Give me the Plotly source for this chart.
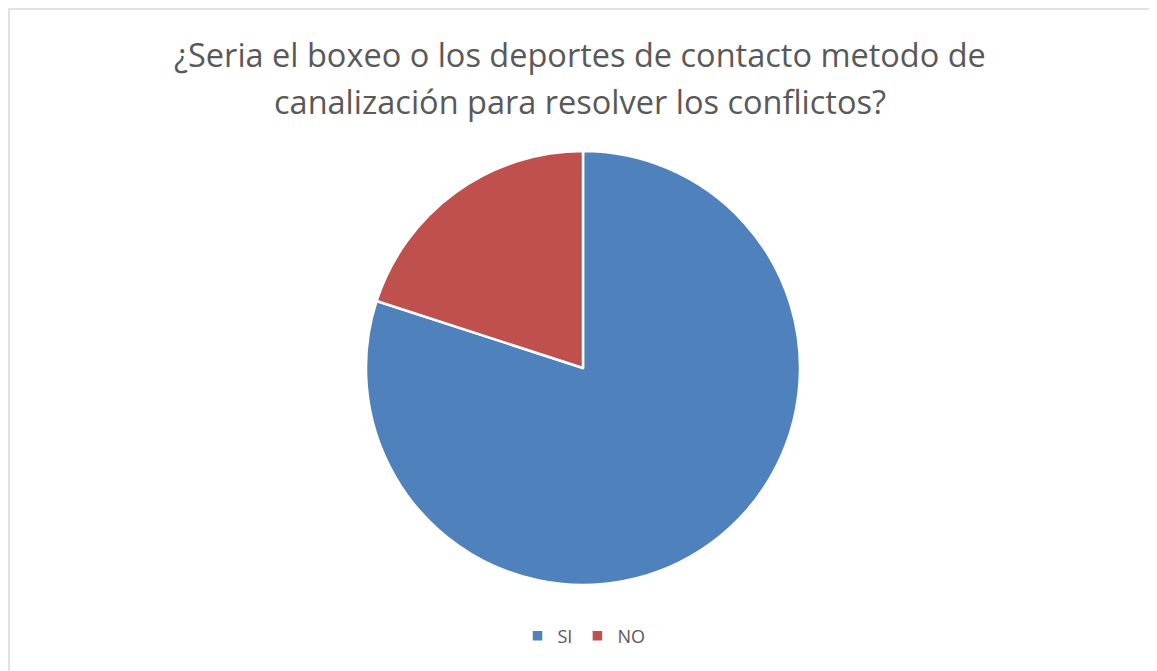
import plotly.graph_objects as go

labels = ["SI", "NO"]
values = [80, 20]
colors = ["#4F81BD", "#C0504D"]
title_lines = ["¿Seria el boxeo o los deportes de contacto metodo de",
               "canalización para resolver los conflictos?"]

W, H = 1157, 671
OFF = 8  # page body margin

def py(y):
    return 1 - (y - OFF) / H

def px(x):
    return (x - OFF) / W

cx = px(583)
half = 0.25
fig = go.Figure(go.Pie(
    labels=labels,
    values=values,
    sort=False,
    direction="clockwise",
    rotation=0,
    textinfo="none",
    hoverinfo="label+percent",
    marker=dict(colors=colors, line=dict(color="white", width=2.5)),
    domain=dict(x=[cx - half, cx + half], y=[py(585), py(151)]),
))

title_font = dict(family="Open Sans", size=32.5, color="#595959")
annotations = [
    dict(text=title_lines[0], x=px(580), y=py(54), xref="paper", yref="paper",
         xanchor="center", yanchor="middle", showarrow=False, font=title_font),
    dict(text=title_lines[1], x=px(580), y=py(102), xref="paper", yref="paper",
         xanchor="center", yanchor="middle", showarrow=False, font=title_font),
]

fig.update_layout(
    width=W, height=H,
    margin=dict(l=0, r=0, t=0, b=0),
    paper_bgcolor="white",
    annotations=annotations,
    legend=dict(orientation="h", x=px(584), xanchor="center", y=py(636), yanchor="middle",
                font=dict(family="Open Sans", size=18, color="#595959"),
                itemwidth=30, traceorder="normal"),
    shapes=[dict(type="rect", xref="paper", yref="paper",
                 x0=1 / W, y0=-0.05, x1=1.05, y1=1 - 1 / H,
                 line=dict(color="#D9D9D9", width=1.5))],
)

fig.write_html("out.html")
